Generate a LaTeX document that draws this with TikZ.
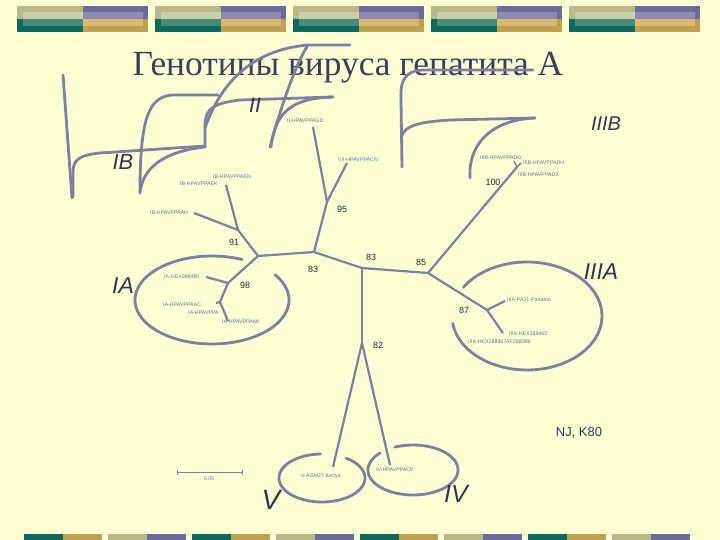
\documentclass[tikz,border=0pt]{standalone}
\usepackage{fontspec}
\setmainfont{Liberation Serif}
\newfontfamily\arialfont{Liberation Sans}
\definecolor{bg}{HTML}{FFFFD6}
\definecolor{ln}{HTML}{7F7F9E}
\definecolor{tx}{HTML}{6C6C8C}
\definecolor{dk}{HTML}{34344E}
\definecolor{ttl}{HTML}{3E3E5C}
\definecolor{ca}{HTML}{B8B888}
\definecolor{cb}{HTML}{6A6A9C}
\definecolor{cc}{HTML}{0E6A5E}
\definecolor{cd}{HTML}{C0A04E}
\definecolor{cal}{HTML}{C9CDA8}
\definecolor{cbl}{HTML}{8C8AAE}
\definecolor{ccl}{HTML}{4C8A7A}
\definecolor{cdl}{HTML}{D6BA72}
\tikzset{
  edge/.style={draw=ln, line width=2.2bp},
  brk/.style={draw=ln, line width=2.8bp, line cap=round},
  tiny/.style={font=\arialfont\fontsize{5.3}{6}\selectfont, text=tx, inner sep=0pt, anchor=west},
  num/.style={font=\arialfont\fontsize{9}{10}\selectfont, text=black!85, inner sep=0pt},
  grp/.style={font=\arialfont\itshape\fontsize{21}{24}\selectfont, text=dk, inner sep=0pt}
}
\begin{document}
\begin{tikzpicture}[x=1bp,y=-1bp]
\useasboundingbox (0,0) rectangle (720,540);
\fill[bg] (0,0) rectangle (720,540);
% top decorative bars
\foreach \xa in {17,155,293,431,569}{
  \fill[ca] (\xa,6) rectangle ({\xa+65.5},19);
  \fill[cb] ({\xa+65.5},6) rectangle ({\xa+131},19);
  \fill[cc] (\xa,19) rectangle ({\xa+65.5},32);
  \fill[cd] ({\xa+65.5},19) rectangle ({\xa+131},32);
  \fill[cal] ({\xa+6},12) rectangle ({\xa+65.5},19);
  \fill[cbl] ({\xa+65.5},12) rectangle ({\xa+126},19);
  \fill[ccl] ({\xa+6},19) rectangle ({\xa+65.5},26);
  \fill[cdl] ({\xa+65.5},19) rectangle ({\xa+126},26);
}
% bottom decorative bars
\foreach \xa/\cl/\cr in {24/cc/cd,108/ca/cb,192/cc/cd,276/ca/cb,360/cc/cd,444/ca/cb,528/cc/cd,612/ca/cb}{
  \fill[\cl] (\xa,534) rectangle ({\xa+39},540);
  \fill[\cr] ({\xa+39},534) rectangle ({\xa+78},540);
}
% title
\node[font=\fontsize{35.5}{40}\selectfont, text=ttl, inner sep=0pt, anchor=base] (title) at (348,76) {Генотипы вируса гепатита А};
% bracket curves (IB / II)
\draw[brk] (63,75) -- (72,198);
\draw[brk] (73,197) -- (73,172) .. controls (73,158) and (82,155) .. (100,153) -- (205,146);
\draw[brk] (140,193) .. controls (140,120) and (148,97) .. (172,95) -- (218,95);
\draw[brk] (140,192) .. controls (143,170) and (160,152) .. (205,147);
\draw[brk] (205,147) -- (205,125) .. controls (205,108) and (215,103) .. (240,100) -- (333,97);
\draw[brk] (205,128) .. controls (220,85) and (250,50) .. (308,45) -- (350,45);
\draw[brk] (270,147) .. controls (280,110) and (295,65) .. (308,45);
\draw[brk] (271,147) .. controls (275,110) and (295,98) .. (333,97);
% bracket curves (IIIB)
\draw[brk] (402,167) -- (401,100) .. controls (400,80) and (405,70) .. (425,70) -- (533,70);
\draw[brk] (401,137) .. controls (405,125) and (420,122) .. (450,120) -- (535,118);
\draw[brk] (470,178) .. controls (468,145) and (490,120) .. (535,118);
% ellipses
\draw[brk] plot[domain=-35:293, samples=100, smooth] ({212+77*cos(\x)},{300+44*sin(\x)});
\draw[brk] plot[domain=212:532, samples=100, smooth] ({527+75*cos(\x)},{316+54*sin(\x)});
\draw[brk] plot[domain=-56:268, samples=80, smooth] ({322+43*cos(\x)},{478+24*sin(\x)});
\draw[brk] plot[domain=246:583, samples=80, smooth] ({413+45*cos(\x)},{470+25*sin(\x)});
% tree nodes
\coordinate (C) at (362,268);
\coordinate (A) at (314,252);
\coordinate (N95) at (327,202);
\coordinate (tGD) at (313,127);
\coordinate (tVII) at (347,163);
\coordinate (N1) at (258,256);
\coordinate (N91) at (238,230);
\coordinate (tAH) at (194,213);
\coordinate (tEK) at (226,185);
\coordinate (N98) at (228,283);
\coordinate (tHEX) at (206,277);
\coordinate (N2) at (220,302);
\coordinate (tAC) at (216,303);
\coordinate (tAK) at (228,321);
\coordinate (B) at (428,273);
\coordinate (N100) at (517,167);
\coordinate (tDG) at (514,161);
\coordinate (tDH) at (521,163);
\coordinate (N87) at (487,310);
\coordinate (tPan) at (505,301);
\coordinate (tH462) at (503,333);
\coordinate (D) at (362,343);
\coordinate (tV) at (333,467);
\coordinate (tIV) at (390,465);
% tree edges
\draw[edge] (C) -- (A);
\draw[edge] (A) -- (N95);
\draw[edge] (N95) -- (tGD);
\draw[edge] (N95) -- (tVII);
\draw[edge] (A) -- (N1);
\draw[edge] (N1) -- (N91);
\draw[edge] (N91) -- (tAH);
\draw[edge] (N91) -- (tEK);
\draw[edge] (N1) -- (N98);
\draw[edge] (N98) -- (tHEX);
\draw[edge] (N98) -- (N2);
\draw[edge] (N2) -- (tAC);
\draw[edge] (N2) -- (tAK);
\draw[edge] (C) -- (B);
\draw[edge] (B) -- (N100);
\draw[edge, line width=1.5bp] (N100) -- (tDG);
\draw[edge, line width=1.5bp] (N100) -- (tDH);
\draw[edge] (B) -- (N87);
\draw[edge] (N87) -- (tPan);
\draw[edge] (N87) -- (tH462);
\draw[edge] (C) -- (D);
\draw[edge] (D) -- (tV);
\draw[edge] (D) -- (tIV);
% leaf labels
\node[tiny] (lGD) at (287,121) {II-HPAVPPAGD};
\node[tiny] (lVII) at (338,160) {VII-HPAVPPACN};
\node[tiny] (lEN) at (213,177) {IB-HPAVPPAEN};
\node[tiny] (lEK) at (180,184) {IB-HPAVPPAEK};
\node[tiny] (lAH) at (150,213) {IB-HPAVPPAAH};
\node[tiny] (lHEX) at (164,277) {IA-HEX288480};
\node[tiny] (lAC) at (163,305) {IA-HPAVPPAAC};
\node[tiny] (lA) at (188,313) {IA-HPAVPPA};
\node[tiny] (lAK) at (222,322) {IA-HPAVPPAAK};
\node[tiny] (lDG) at (480,158) {IIIB-HPAVPPADG};
\node[tiny] (lDH) at (523,163) {IIIB-HPAVPPADH};
\node[tiny] (lDX) at (518,175) {IIIB-HPAVPPADX};
\node[tiny] (lPan) at (507,300) {IIIA-PA21-Panama};
\node[tiny] (l462) at (509,334) {IIIA-HEX288462};
\node[tiny] (l467) at (468,342) {IIIA-HEX288467};
\node[tiny] (lAF) at (506,342) {AF268396};
\node[tiny] (lV) at (301,476) {V-AGM27-Kenya};
\node[tiny] (lIV) at (376,470) {IV-HPAVPPACP};
% bootstrap values
\node[num] (b95) at (342,209) {95};
\node[num] (b91) at (234,242) {91};
\node[num] (b83a) at (313,269) {83};
\node[num] (b83b) at (371,257) {83};
\node[num] (b85) at (421,262) {85};
\node[num] (b87) at (464,310) {87};
\node[num] (b82) at (378,345) {82};
\node[num] (b98) at (245,285) {98};
\node[num] (b100) at (493,182) {100};
% genotype labels
\node[grp, font=\arialfont\itshape\fontsize{22}{24}\selectfont] (gIB) at (123,162) {IB};
\node[grp] (gII) at (255,105) {II};
\node[grp, font=\arialfont\itshape\fontsize{20}{24}\selectfont] (gIIIB) at (606,124) {IIIB};
\node[grp, font=\arialfont\itshape\fontsize{23}{24}\selectfont] (gIA) at (123,286) {IA};
\node[grp, font=\arialfont\itshape\fontsize{23}{24}\selectfont] (gIIIA) at (601,272) {IIIA};
\node[grp, font=\arialfont\itshape\fontsize{28}{30}\selectfont] (gV) at (271,500) {V};
\node[grp, font=\arialfont\itshape\fontsize{25}{28}\selectfont] (gIV) at (456,494) {IV};
% method
\node[font=\arialfont\fontsize{13}{15}\selectfont, text=dk, inner sep=0pt] (nj) at (579,433) {NJ, K80};
% scale bar
\coordinate (s1) at (177,472);
\coordinate (s2) at (242,472);
\draw[draw=ln, line width=1bp] (s1) -- (s2);
\draw[draw=ln, line width=1bp] ([yshift=2.5bp]s1) -- ([yshift=-2.5bp]s1);
\draw[draw=ln, line width=1bp] ([yshift=2.5bp]s2) -- ([yshift=-2.5bp]s2);
\node[tiny, anchor=center] (sc) at (209,479) {0.05};
\end{tikzpicture}
\end{document}
